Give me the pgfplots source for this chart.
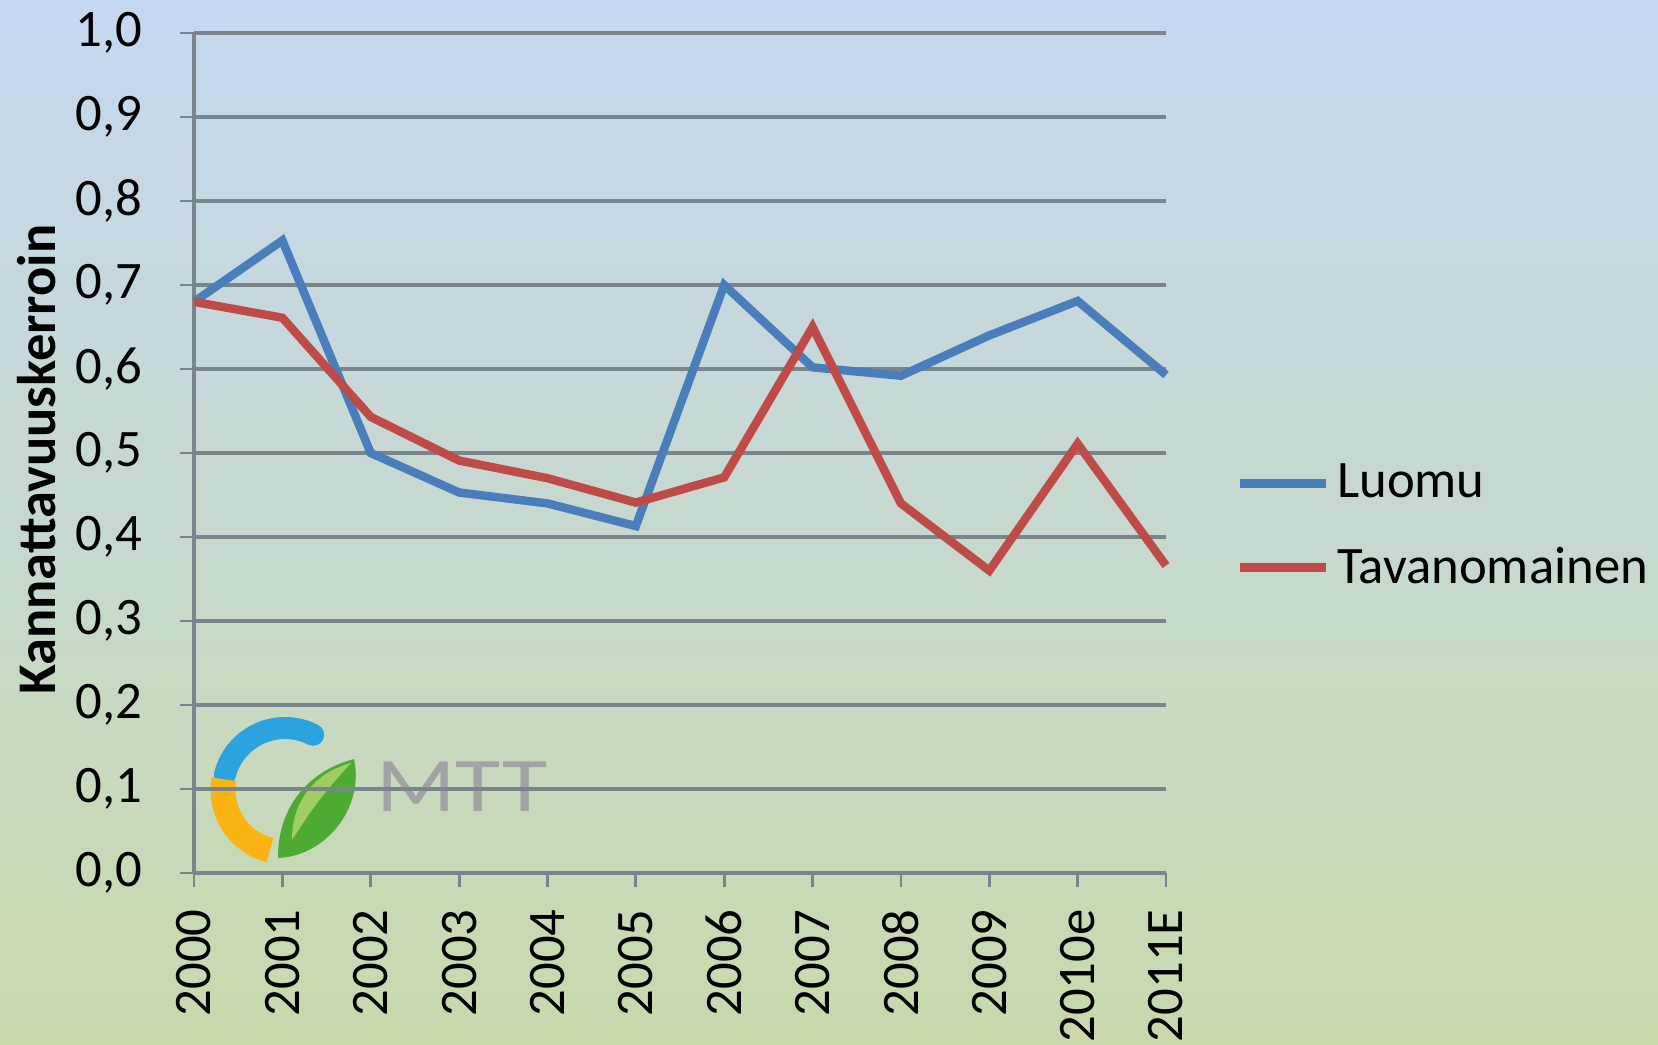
\documentclass[border=0pt]{standalone}
\usepackage{fontspec}
\setmainfont{Carlito}
\usepackage{pgfplots}
\pgfplotsset{compat=1.18}

\definecolor{bgtop}{RGB}{197,216,241}
\definecolor{bgmid}{RGB}{199,217,230}
\definecolor{bgbot}{RGB}{201,217,172}
\definecolor{luomu}{RGB}{74,126,187}
\definecolor{tavan}{RGB}{190,75,72}
\definecolor{gridc}{RGB}{122,132,140}
\definecolor{logoblue}{RGB}{43,163,222}
\definecolor{logoorange}{RGB}{249,180,20}
\definecolor{logogreen}{RGB}{77,170,50}
\definecolor{logolight}{RGB}{160,205,100}

\begin{document}
\begin{tikzpicture}
  % background, sized like the reference (1 px = 0.01 cm)
  \path[use as bounding box] (-1.94,-1.71) rectangle (14.64,8.73);
  \shade[top color=bgtop, middle color=bgmid, bottom color=bgbot]
    (-1.94,-1.71) rectangle (14.64,8.73);

  % MTT logo watermark
  \draw[logoblue, line width=0.22cm, line cap=round] (0.91,0.83) ++(63:0.62) arc (63:166:0.62);
  \draw[logoorange, line width=0.25cm] (0.91,0.83) ++(170:0.62) arc (170:256:0.62);
  \fill[logogreen] (0.84,0.15) to[bend right=50] (1.60,1.14) to[bend right=38] cycle;
  \fill[logolight] (0.98,0.33) to[bend left=5] (1.57,1.10) to[bend right=38] cycle;
  \node[text=gray!72, font=\fontsize{22}{22}\selectfont, xscale=1.2] at (2.68,0.86) {MTT};

  \begin{axis}[
    at={(0,0)}, anchor=south west,
    scale only axis,
    width=9.72cm, height=8.4cm,
    xmin=0, xmax=11,
    ymin=0, ymax=1,
    xtick={0,1,2,3,4,5,6,7,8,9,10,11},
    xticklabels={2000,2001,2002,2003,2004,2005,2006,2007,2008,2009,2010e,2011E},
    ytick={0,0.1,0.2,0.3,0.4,0.5,0.6,0.7,0.8,0.9,1.0},
    /pgf/number format/.cd, use comma, fixed, fixed zerofill, precision=1,
    assume math mode=true,
    /pgfplots/.cd,
    axis lines=left,
    axis line style={-, gridc, line width=1pt},
    ymajorgrids,
    grid style={gridc, line width=0.9pt},
    tick align=outside,
    major tick length=0.14cm,
    tick style={gridc, line width=0.8pt},
    tick label style={font=\fontsize{15}{17}\selectfont},
    xticklabel style={rotate=90, anchor=east, xshift=-0.1cm},
    yticklabel style={xshift=-0.25cm},
    ylabel={Kannattavuuskerroin},
    ylabel style={font=\bfseries\fontsize{15.5}{17}\selectfont,
      at={(axis description cs:-0.1615,0.492)}, anchor=center, rotate=0},
    legend style={draw=none, fill=none, at={(axis description cs:1.071,0.413)},
      anchor=west, font=\fontsize{15}{17}\selectfont, row sep=0.3cm,
      inner xsep=0pt},
    legend cell align=left,
    legend image code/.code={\draw[#1] (0cm,0cm) -- (0.86cm,0cm);},
    every axis plot/.append style={line width=2.4pt},
    clip=false,
  ]
    \addplot[luomu] coordinates {
      (0,0.68) (1,0.753) (2,0.50) (3,0.453) (4,0.44) (5,0.413)
      (6,0.70) (7,0.602) (8,0.592) (9,0.64) (10,0.681) (11,0.593)
    };
    \addlegendentry{Luomu}
    \addplot[tavan] coordinates {
      (0,0.68) (1,0.661) (2,0.543) (3,0.491) (4,0.47) (5,0.441)
      (6,0.471) (7,0.65) (8,0.44) (9,0.36) (10,0.511) (11,0.366)
    };
    \addlegendentry{Tavanomainen}
  \end{axis}
\end{tikzpicture}
\end{document}
